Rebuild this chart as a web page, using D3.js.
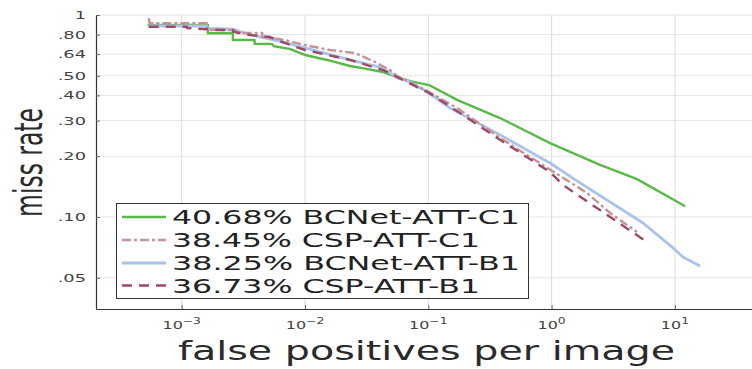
<!DOCTYPE html>
<html>
<head>
<meta charset="utf-8">
<script src="https://cdn.jsdelivr.net/npm/d3@7"></script>
<style>
html,body{margin:0;padding:0;background:#fff;}
svg{display:block;font-family:"DejaVu Sans",sans-serif;}
</style>
</head>
<body>
<svg id="chart" width="752" height="369"></svg>
<script>
// ---- data (fppi, miss rate) ----
const seriesNames = ["BCNet-ATT-C1", "CSP-ATT-C1", "BCNet-ATT-B1", "CSP-ATT-B1"];
const seriesScores = ["40.68%", "38.45%", "38.25%", "36.73%"];

const bcnetC1 = [[5.3e-4,0.892],[1.63e-3,0.892],[1.63e-3,0.812],[2.6e-3,0.812],[2.6e-3,0.752],[3.9e-3,0.752],[3.9e-3,0.72],[5.4e-3,0.718],[5.6e-3,0.70],[7.5e-3,0.68],[0.0100,0.634],[0.0151,0.599],[0.0232,0.559],[0.0307,0.543],[0.0429,0.522],[0.0558,0.493],[0.0711,0.471],[0.1014,0.450],[0.171,0.380],[0.382,0.309],[0.97,0.232],[2.47,0.181],[4.93,0.154],[12.1,0.113]];
const cspC1 = [[5.4e-4,0.966],[5.5e-4,0.91],[1.6e-3,0.91],[1.6e-3,0.843],[2.8e-3,0.843],[2.8e-3,0.815],[4.5e-3,0.815],[4.5e-3,0.778],[6.3e-3,0.76],[0.0100,0.71],[0.01595,0.671],[0.0255,0.648],[0.0370,0.585],[0.0489,0.534],[0.0558,0.499],[0.1014,0.416],[0.181,0.339],[0.382,0.246],[1.937,0.1315],[2.977,0.1047],[4.93,0.0843]];
const bcnetB1 = [[5.4e-4,0.882],[1.6e-3,0.882],[1.6e-3,0.86],[2.6e-3,0.85],[3.58e-3,0.80],[6.3e-3,0.74],[0.0100,0.687],[0.0232,0.599],[0.0429,0.547],[0.0558,0.488],[0.0711,0.466],[0.1014,0.411],[0.150,0.346],[0.382,0.255],[0.97,0.185],[1.548,0.153],[5.51,0.0934],[9.66,0.0703],[11.6,0.0634],[16.0,0.0572]];
const cspB1 = [[5.4e-4,0.875],[1.1e-3,0.875],[1.1e-3,0.862],[2.05e-3,0.843],[2.6e-3,0.843],[2.6e-3,0.827],[3.58e-3,0.796],[5.2e-3,0.778],[6.3e-3,0.74],[0.0100,0.671],[0.0232,0.599],[0.0429,0.534],[0.0558,0.493],[0.1014,0.411],[0.181,0.327],[0.382,0.241],[0.97,0.167],[1.236,0.144],[5.94,0.0752]];

const xTickValues = [1e-3, 1e-2, 1e-1, 1e0, 1e1];
const xTickExponents = ["−3", "−2", "−1", "0", "1"];
const yTickValues = [1, 0.80, 0.64, 0.50, 0.40, 0.30, 0.20, 0.10, 0.05];
const yTickLabels = ["1", ".80", ".64", ".50", ".40", ".30", ".20", ".10", ".05"];

// ---- styles ----
const colors = ["#58b947", "#c4939a", "#a9c3ea", "#9c4a66"];
const dashes = [null, "9,3,3,3", null, "10,7"];
const widths = [2.4, 2.4, 2.8, 2.4];
const seriesData = [bcnetC1, cspC1, bcnetB1, cspB1];

const svg = d3.select("#chart");
const L = 96, R = 752, T = 15, B = 309;

const x = d3.scaleLog().domain([Math.pow(10, -3.695), Math.pow(10, 1.625)]).range([L, R]);
const y = d3.scaleLog().domain([Math.pow(10, -1.4554), 1]).range([B, T]);

// grid
const grid = svg.append("g");
grid.selectAll("line.gy").data(yTickValues).enter().append("line")
  .attr("x1", L).attr("x2", R).attr("y1", d => y(d)).attr("y2", d => y(d))
  .attr("stroke", "#e4e4e4").attr("stroke-width", 1);
grid.selectAll("line.gx").data(xTickValues).enter().append("line")
  .attr("x1", d => x(d)).attr("x2", d => x(d)).attr("y1", T).attr("y2", B)
  .attr("stroke", "#dcdcdc").attr("stroke-width", 1);

// axes
const xAxis = d3.axisBottom(x).tickValues(xTickValues).tickSizeInner(-4).tickSizeOuter(0).tickFormat("");
const yAxis = d3.axisLeft(y).tickValues(yTickValues).tickSizeInner(-4).tickSizeOuter(0).tickFormat("");
const gx = svg.append("g").attr("transform", `translate(0,${B})`).call(xAxis);
const gy = svg.append("g").attr("transform", `translate(${L},0)`).call(yAxis);
[gx, gy].forEach(g => {
  g.select(".domain").attr("stroke", "#333").attr("stroke-width", 1.2);
  g.selectAll(".tick line").attr("stroke", "#666");
});

// y tick labels
yTickValues.forEach((v, i) => {
  svg.append("text")
    .attr("transform", `translate(86,${y(v) + 4}) scale(1.62,1)`)
    .attr("text-anchor", "end")
    .attr("font-size", 11)
    .attr("fill", "#444")
    .text(yTickLabels[i]);
});

// x tick labels
xTickValues.forEach((v, i) => {
  const t = svg.append("text")
    .attr("transform", `translate(${x(v)},329) scale(1.45,1)`)
    .attr("text-anchor", "middle")
    .attr("fill", "#444");
  t.append("tspan").attr("font-size", 11).text("10");
  t.append("tspan").attr("font-size", 8.5).attr("dy", -5).text(xTickExponents[i]);
});

// lines
const line = d3.line().x(d => x(d[0])).y(d => y(d[1]));
svg.append("defs").append("clipPath").attr("id", "clip")
  .append("rect").attr("x", L).attr("y", T - 5).attr("width", R - L).attr("height", B - T + 5);
const lines = svg.append("g").attr("clip-path", "url(#clip)");
// draw order: green, blue, pink, maroon
[0, 2, 1, 3].forEach(i => {
  lines.append("path").datum(seriesData[i])
    .attr("d", line)
    .attr("fill", "none")
    .attr("stroke", colors[i])
    .attr("stroke-width", widths[i])
    .attr("stroke-dasharray", dashes[i])
    .attr("stroke-linejoin", "round");
});

// legend
const lg = svg.append("g");
lg.append("rect").attr("x", 116.5).attr("y", 203.5).attr("width", 412).attr("height", 95)
  .attr("fill", "#fff").attr("stroke", "#333").attr("stroke-width", 1);
const rowY = [217, 240, 263, 285.5];
const textLens = [348, 308, 348, 308];
seriesNames.forEach((name, i) => {
  lg.append("line").attr("x1", 122).attr("x2", 166).attr("y1", rowY[i]).attr("y2", rowY[i])
    .attr("stroke", colors[i]).attr("stroke-width", widths[i])
    .attr("stroke-dasharray", dashes[i]);
  lg.append("text").attr("x", 172).attr("y", rowY[i] + 7)
    .attr("font-size", 19).attr("fill", "#222")
    .attr("textLength", textLens[i]).attr("lengthAdjust", "spacingAndGlyphs")
    .text(seriesScores[i] + " " + name);
});

// axis titles
svg.append("text").attr("x", 178).attr("y", 360)
  .attr("font-size", 27).attr("fill", "#2a2a2a")
  .attr("textLength", 497).attr("lengthAdjust", "spacingAndGlyphs")
  .text("false positives per image");

svg.append("text")
  .attr("transform", "translate(42,162.5) scale(1.85,1) rotate(-90)")
  .attr("text-anchor", "middle")
  .attr("font-size", 21).attr("fill", "#2a2a2a")
  .attr("textLength", 109).attr("lengthAdjust", "spacingAndGlyphs")
  .text("miss rate");
</script>
</body>
</html>
